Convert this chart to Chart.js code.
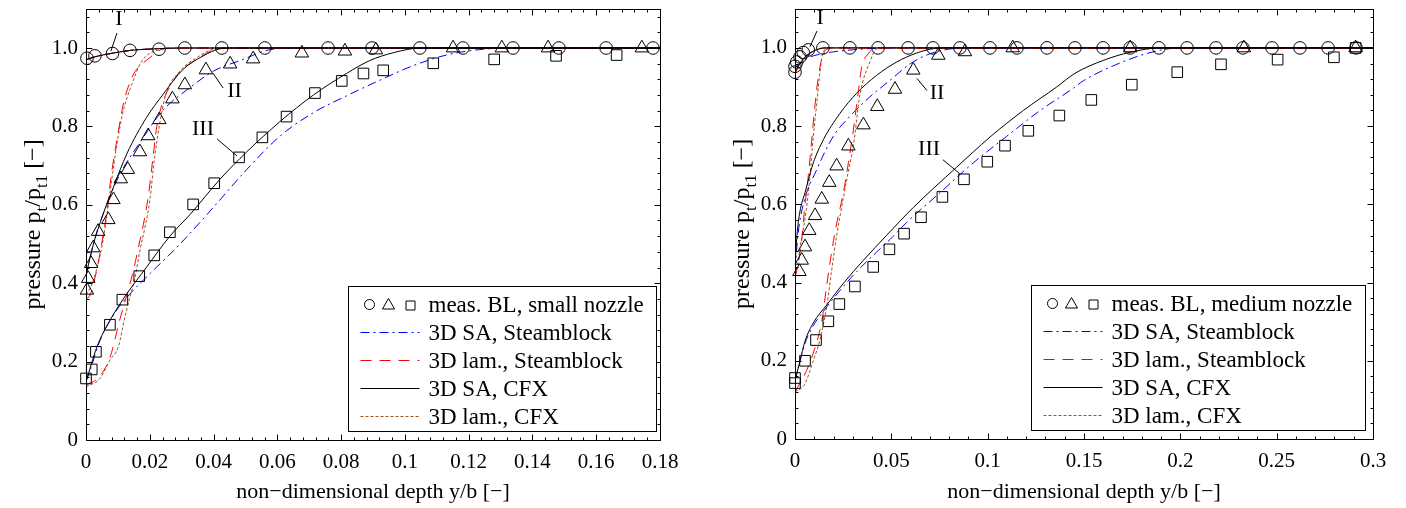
<!DOCTYPE html>
<html>
<head>
<meta charset="utf-8">
<title>Boundary layer profiles</title>
<script src="https://cdn.jsdelivr.net/npm/chart.js@4.4.1/dist/chart.umd.min.js"></script>
<style>
  html, body { margin: 0; padding: 0; background: #fff; }
  #wrap { position: relative; width: 1406px; height: 508px; overflow: hidden; }
  .panel { position: absolute; top: 0; width: 703px; height: 508px; }
</style>
</head>
<body>
<div id="wrap">
  <div class="panel" style="left:0"><canvas id="small" width="703" height="508"></canvas></div>
  <div class="panel" style="left:703px"><canvas id="medium" width="703" height="508"></canvas></div>
</div>
<script>
// ---- small nozzle (left), [y/b, pt/pt1] ----
const smallMeasI = [[0.0003,0.974],[0.0028,0.980],[0.0083,0.986],[0.0138,0.994],[0.0229,0.997],[0.031,1.0],[0.0426,1.0],[0.0561,1.0],[0.0759,1.0],[0.0897,1.0],[0.1047,1.0],[0.1182,1.0],[0.1339,1.0],[0.1483,1.0],[0.1631,1.0],[0.1778,1.0]];
const smallMeasII = [[0.0003,0.382],[0.0007,0.412],[0.0016,0.450],[0.0023,0.490],[0.0038,0.532],[0.0070,0.562],[0.0086,0.613],[0.0109,0.666],[0.0131,0.690],[0.0169,0.735],[0.0195,0.776],[0.0230,0.817],[0.0271,0.870],[0.0310,0.906],[0.0376,0.944],[0.0452,0.959],[0.0524,0.972],[0.0677,0.987],[0.0812,0.992],[0.0909,0.995],[0.1151,1.0],[0.1304,1.0],[0.1449,1.0],[0.1743,1.0]];
const smallMeasIII = [[0.0,0.157],[0.0018,0.180],[0.0031,0.225],[0.0075,0.294],[0.0114,0.358],[0.0167,0.418],[0.0214,0.471],[0.0263,0.530],[0.0336,0.601],[0.0402,0.655],[0.0480,0.721],[0.0553,0.772],[0.0629,0.825],[0.0718,0.885],[0.0802,0.916],[0.0870,0.935],[0.0932,0.943],[0.1089,0.961],[0.1280,0.971],[0.1474,0.980],[0.1664,0.982]];

const smallLineI = [[0,0.97],[0.003,0.978],[0.0085,0.987],[0.014,0.994],[0.022,0.998],[0.03,1.0],[0.18,1.0]];
const smallSaSbII = [[0,0.42],[0.003,0.52],[0.0065,0.6],[0.0107,0.679],[0.017,0.76],[0.024,0.84],[0.0326,0.899],[0.04,0.941],[0.0493,0.971],[0.0567,0.994],[0.065,1.0],[0.18,1.0]];
const smallLamSbII = [[0,0.36],[0.0013,0.37],[0.003,0.42],[0.0049,0.50],[0.0065,0.58],[0.008,0.68],[0.0096,0.76],[0.0117,0.857],[0.0132,0.90],[0.0154,0.94],[0.02,0.975],[0.0227,0.993],[0.027,1.0],[0.18,1.0]];
const smallSaCfxII = [[0,0.42],[0.002,0.49],[0.0054,0.577],[0.0086,0.645],[0.0128,0.730],[0.019,0.823],[0.0242,0.882],[0.0305,0.946],[0.0368,0.980],[0.042,0.998],[0.046,1.0],[0.18,1.0]];
const smallLamCfxII = [[0,0.37],[0.002,0.40],[0.0049,0.49],[0.0065,0.57],[0.008,0.66],[0.0096,0.75],[0.0117,0.84],[0.0145,0.91],[0.0174,0.965],[0.0227,0.995],[0.03,1.0],[0.18,1.0]];
const smallSaSbIII = [[0,0.15],[0.0013,0.178],[0.0044,0.254],[0.0096,0.331],[0.0138,0.373],[0.02,0.424],[0.0295,0.50],[0.04,0.594],[0.0504,0.69],[0.0608,0.775],[0.0713,0.835],[0.0817,0.878],[0.0922,0.918],[0.1026,0.955],[0.113,0.982],[0.1235,0.996],[0.135,1.0],[0.18,1.0]];
const smallLamSbIII = [[0,0.14],[0.004,0.16],[0.0075,0.21],[0.0107,0.31],[0.0128,0.37],[0.0148,0.43],[0.0164,0.49],[0.018,0.55],[0.0195,0.62],[0.021,0.72],[0.0222,0.80],[0.0242,0.865],[0.027,0.91],[0.0295,0.94],[0.0336,0.965],[0.04,0.995],[0.045,1.0],[0.18,1.0]];
const smallSaCfxIII = [[0,0.148],[0.0034,0.237],[0.0075,0.305],[0.0128,0.373],[0.019,0.441],[0.0263,0.52],[0.0326,0.575],[0.042,0.665],[0.0504,0.735],[0.0608,0.812],[0.0713,0.88],[0.0817,0.935],[0.089,0.968],[0.0964,0.988],[0.105,1.0],[0.18,1.0]];
const smallLamCfxIII = [[0,0.136],[0.0044,0.157],[0.0075,0.204],[0.0101,0.237],[0.0122,0.314],[0.0138,0.365],[0.0154,0.416],[0.0169,0.483],[0.0185,0.543],[0.02,0.61],[0.0215,0.72],[0.0248,0.874],[0.0295,0.941],[0.0347,0.975],[0.041,0.999],[0.046,1.0],[0.18,1.0]];

// ---- medium nozzle (right) ----
const mediumMeasI = [[0,0.938],[0,0.953],[0.0009,0.964],[0.0026,0.977],[0.0043,0.988],[0.0069,0.995],[0.0145,1.0],[0.0285,1.0],[0.0431,1.0],[0.0587,1.0],[0.0716,1.0],[0.0856,1.0],[0.1012,1.0],[0.1152,1.0],[0.1308,1.0],[0.1453,1.0],[0.1599,1.0],[0.1739,1.0],[0.1889,1.0],[0.2035,1.0],[0.2185,1.0],[0.2325,1.0],[0.2476,1.0],[0.2621,1.0],[0.2767,1.0],[0.2912,1.0]];
const mediumMeasII = [[0.0023,0.428],[0.0035,0.457],[0.0052,0.491],[0.0074,0.533],[0.0104,0.571],[0.0139,0.613],[0.0178,0.656],[0.0216,0.698],[0.0277,0.749],[0.0355,0.803],[0.0427,0.850],[0.0519,0.894],[0.0614,0.943],[0.0744,0.981],[0.0882,0.99],[0.113,1.0],[0.174,1.0],[0.233,1.0],[0.291,1.0]];
const mediumMeasIII = [[0,0.143],[0,0.156],[0.0052,0.200],[0.0109,0.253],[0.0173,0.301],[0.023,0.345],[0.0311,0.390],[0.0406,0.440],[0.049,0.485],[0.0566,0.525],[0.0654,0.567],[0.0765,0.619],[0.0877,0.664],[0.0998,0.709],[0.109,0.750],[0.1211,0.788],[0.1372,0.827],[0.1538,0.867],[0.1748,0.906],[0.1984,0.938],[0.2211,0.958],[0.2505,0.970],[0.2797,0.976],[0.291,1.0]];

const mediumSaSbI = [[0,0.95],[0.007,0.975],[0.014,0.985],[0.02,0.99],[0.035,0.997],[0.05,1.0],[0.3,1.0]];
const mediumLamSbI = [[0,0.934],[0.0035,0.968],[0.0085,0.989],[0.015,1.0],[0.3,1.0]];
const mediumSaCfxI = [[0,0.94],[0.004,0.97],[0.009,0.99],[0.016,1.0],[0.3,1.0]];
const mediumLamCfxI = [[0,0.935],[0.0035,0.968],[0.0085,0.989],[0.015,1.0],[0.3,1.0]];
const mediumSaSbII = [[0,0.43],[0.0015,0.52],[0.0043,0.6],[0.0113,0.689],[0.0199,0.774],[0.0285,0.825],[0.0389,0.875],[0.0493,0.917],[0.0597,0.959],[0.07,0.985],[0.08,0.997],[0.09,1.0],[0.3,1.0]];
const mediumLamSbII = [[0,0.41],[0.0017,0.45],[0.0035,0.51],[0.0052,0.6],[0.0069,0.673],[0.0087,0.765],[0.0104,0.855],[0.0121,0.925],[0.0139,0.972],[0.0165,0.997],[0.02,1.0],[0.3,1.0]];
const mediumSaCfxII = [[0,0.44],[0.001,0.52],[0.0025,0.58],[0.0052,0.63],[0.0095,0.706],[0.0147,0.765],[0.0234,0.833],[0.032,0.884],[0.0424,0.930],[0.0528,0.964],[0.0632,0.987],[0.0718,0.998],[0.08,1.0],[0.3,1.0]];
const mediumLamCfxII = [[0,0.42],[0.0015,0.45],[0.0026,0.49],[0.0052,0.563],[0.0078,0.673],[0.0095,0.774],[0.0113,0.858],[0.013,0.94],[0.0147,0.99],[0.018,1.0],[0.3,1.0]];
const mediumSaSbIII = [[0,0.149],[0.0026,0.2],[0.0052,0.245],[0.0095,0.29],[0.0147,0.326],[0.02,0.36],[0.032,0.428],[0.0424,0.478],[0.0493,0.51],[0.058,0.554],[0.0753,0.63],[0.0925,0.706],[0.1099,0.774],[0.1272,0.84],[0.1445,0.897],[0.1497,0.916],[0.167,0.958],[0.1843,0.988],[0.2,1.0],[0.3,1.0]];
const mediumLamSbIII = [[0,0.12],[0.006,0.175],[0.0104,0.234],[0.0139,0.301],[0.0165,0.394],[0.019,0.478],[0.0216,0.55],[0.0251,0.63],[0.0277,0.706],[0.0303,0.79],[0.0329,0.89],[0.0346,0.95],[0.038,0.985],[0.0424,1.0],[0.3,1.0]];
const mediumSaCfxIII = [[0,0.149],[0.0026,0.2],[0.0052,0.25],[0.0095,0.297],[0.0165,0.343],[0.0251,0.398],[0.0355,0.457],[0.0476,0.521],[0.0614,0.592],[0.0839,0.695],[0.1012,0.772],[0.1185,0.84],[0.1358,0.9],[0.1453,0.935],[0.16,0.968],[0.174,0.989],[0.19,1.0],[0.3,1.0]];
const mediumLamCfxIII = [[0,0.12],[0.005,0.14],[0.0095,0.2],[0.013,0.255],[0.0165,0.34],[0.019,0.43],[0.0216,0.52],[0.0245,0.6],[0.0275,0.68],[0.0303,0.75],[0.0337,0.88],[0.0389,0.965],[0.0424,0.997],[0.05,1.0],[0.3,1.0]];

const yTicks = [0, 0.2, 0.4, 0.6, 0.8, 1.0];
const smallLegend = ['meas. BL, small nozzle', '3D SA, Steamblock', '3D lam., Steamblock', '3D SA, CFX', '3D lam., CFX'];
const mediumLegend = ['meas. BL, medium nozzle', '3D SA, Steamblock', '3D lam., Steamblock', '3D SA, CFX', '3D lam., CFX'];

const FONT = '"Liberation Serif", "DejaVu Serif", serif';
Chart.defaults.font.family = FONT;
Chart.defaults.color = '#000';

const lineStyle = {
  saSb:   { color: '#0000ff', dash: [9, 4, 2, 4] },
  lamSb:  { color: '#ff0000', dash: [11, 8] },
  saCfx:  { color: '#000000', dash: [] },
  lamCfx: { color: '#a0521e', dash: [3, 2] }
};

function pts(arr) { return arr.map(p => ({ x: p[0], y: p[1] })); }

function lineSet(arr, key) {
  const s = lineStyle[key];
  return {
    data: pts(arr), showLine: true, pointRadius: 0, borderWidth: 1,
    borderColor: s.color, borderDash: s.dash, fill: false,
    cubicInterpolationMode: 'monotone'
  };
}

function markerSet(arr, style, r) {
  return {
    data: pts(arr), showLine: false, pointStyle: style, pointRadius: r,
    borderWidth: 1, borderColor: '#000', backgroundColor: 'rgba(0,0,0,0)', clip: false
  };
}

function drawMarker(ctx, style, x, y, r) {
  ctx.beginPath();
  if (style === 'circle') ctx.arc(x, y, r, 0, Math.PI * 2);
  else if (style === 'triangle') {
    ctx.moveTo(x, y - r);
    ctx.lineTo(x + r * 0.866, y + r * 0.5);
    ctx.lineTo(x - r * 0.866, y + r * 0.5);
    ctx.closePath();
  } else ctx.rect(x - r, y - r, 2 * r, 2 * r);
  ctx.stroke();
}

// frame with inward major/minor ticks on all four sides
const frameTicks = {
  id: 'frameTicks',
  afterDatasetsDraw(chart, args, o) {
    const { ctx, chartArea: a, scales: { x, y } } = chart;
    ctx.save();
    ctx.strokeStyle = '#000';
    ctx.lineWidth = 1;
    const L = Math.round(a.left) + 0.5, R = Math.round(a.right) + 0.5;
    const T = Math.round(a.top) + 0.5, B = Math.round(a.bottom) + 0.5;
    ctx.strokeRect(L, T, R - L, B - T);
    ctx.beginPath();
    const nx = Math.floor(x.max / o.xMinor + 1e-6);
    for (let i = 0; i <= nx; i++) {
      const px = Math.round(x.getPixelForValue(i * o.xMinor)) + 0.5;
      const len = i % 5 === 0 ? 6 : 3;
      ctx.moveTo(px, B); ctx.lineTo(px, B - len);
      ctx.moveTo(px, T); ctx.lineTo(px, T + len);
    }
    const ny = Math.floor(y.max / o.yMinor + 1e-6);
    for (let i = 0; i <= ny; i++) {
      const py = Math.round(y.getPixelForValue(i * o.yMinor)) + 0.5;
      const len = i % 5 === 0 ? 6 : 3;
      ctx.moveTo(L, py); ctx.lineTo(L + len, py);
      ctx.moveTo(R, py); ctx.lineTo(R - len, py);
    }
    ctx.stroke();
    ctx.restore();
  }
};

// I / II / III labels with leader lines, placed in data coordinates
const profileNotes = {
  id: 'profileNotes',
  afterDatasetsDraw(chart, args, o) {
    const { ctx, scales: { x, y } } = chart;
    ctx.save();
    ctx.strokeStyle = '#000';
    ctx.fillStyle = '#000';
    ctx.lineWidth = 1;
    ctx.font = `${o.size}px ${FONT}`;
    ctx.textAlign = 'center';
    ctx.textBaseline = 'middle';
    o.notes.forEach(n => {
      ctx.beginPath();
      ctx.moveTo(x.getPixelForValue(n.from[0]), y.getPixelForValue(n.from[1]));
      ctx.lineTo(x.getPixelForValue(n.to[0]), y.getPixelForValue(n.to[1]));
      ctx.stroke();
      ctx.fillText(n.text, x.getPixelForValue(n.at[0]), y.getPixelForValue(n.at[1]));
    });
    ctx.restore();
  }
};

const boxLegend = {
  id: 'boxLegend',
  afterDraw(chart, args, o) {
    const { ctx, chartArea: a } = chart;
    ctx.save();
    ctx.font = `${o.size}px ${FONT}`;
    const tw = Math.max(...o.labels.map(l => ctx.measureText(l).width));
    const w = Math.round(80 + tw + 13), h = 145;
    const x0 = Math.round(a.right - o.inset - w) + 0.5;
    const y0 = Math.round(a.bottom - 9 - h) + 0.5;
    ctx.fillStyle = '#fff';
    ctx.fillRect(x0, y0, w, h);
    ctx.strokeStyle = '#000';
    ctx.lineWidth = 1;
    ctx.strokeRect(x0, y0, w, h);
    const keys = [null, 'saSb', 'lamSb', 'saCfx', 'lamCfx'];
    o.labels.forEach((label, i) => {
      const yy = Math.round(y0 + 17.5 + i * 28) + 0.5;
      if (i === 0) {
        ctx.setLineDash([]);
        ctx.strokeStyle = '#000';
        drawMarker(ctx, 'circle', x0 + 21, yy, 5);
        drawMarker(ctx, 'triangle', x0 + 40, yy + 1, 7);
        drawMarker(ctx, 'rect', x0 + 62, yy + 1, 4.5);
      } else {
        const s = lineStyle[keys[i]];
        ctx.strokeStyle = s.color;
        ctx.setLineDash(s.dash);
        ctx.beginPath();
        ctx.moveTo(x0 + 12, yy);
        ctx.lineTo(x0 + 71, yy);
        ctx.stroke();
      }
      ctx.setLineDash([]);
      ctx.fillStyle = '#000';
      ctx.textAlign = 'left';
      ctx.textBaseline = 'middle';
      ctx.fillText(label, x0 + 80, yy + 1);
    });
    ctx.restore();
  }
};

// axis titles (y title needs subscripts)
const axisTitles = {
  id: 'axisTitles',
  afterDraw(chart, args, o) {
    const { ctx, chartArea: a } = chart;
    ctx.save();
    ctx.fillStyle = '#000';
    ctx.font = `${o.xSize}px ${FONT}`;
    ctx.textAlign = 'center';
    ctx.textBaseline = 'middle';
    ctx.fillText('non\u2212dimensional depth y/b [\u2212]', (a.left + a.right) / 2, o.xTitleY);

    const big = o.ySize, small = Math.round(o.ySize * 0.72);
    const parts = [['pressure p', 0], ['t', 1], ['/p', 0], ['t1', 1], [' [\u2212]', 0]];
    let total = 0;
    parts.forEach(([t, sub]) => {
      ctx.font = `${sub ? small : big}px ${FONT}`;
      total += ctx.measureText(t).width;
    });
    ctx.translate(o.yTitleX, (a.top + a.bottom) / 2);
    ctx.rotate(-Math.PI / 2);
    ctx.textAlign = 'left';
    ctx.textBaseline = 'alphabetic';
    let cx = -total / 2;
    parts.forEach(([t, sub]) => {
      ctx.font = `${sub ? small : big}px ${FONT}`;
      ctx.fillText(t, cx, big * 0.33 + (sub ? big * 0.3 : 0));
      cx += ctx.measureText(t).width;
    });
    ctx.restore();
  }
};

function tickText(v) {
  if (v === 0) return '0';
  return String(Math.round(v * 1000) / 1000);
}

function makeChart(id, c) {
  const datasets = [
    markerSet(c.meas[0], 'circle', 6.3),
    markerSet(c.meas[1], 'triangle', 7.8),
    markerSet(c.meas[2], 'rect', 7.5)
  ];
  ['saCfx', 'lamSb', 'saSb', 'lamCfx'].forEach(k => {
    c.lines[k].forEach(arr => datasets.push(lineSet(arr, k)));
  });

  return new Chart(document.getElementById(id), {
    type: 'scatter',
    data: { datasets },
    plugins: [frameTicks, profileNotes, boxLegend, axisTitles],
    options: {
      responsive: false,
      animation: false,
      events: [],
      layout: { padding: { left: 0, top: c.padTop, right: c.padRight, bottom: 0 } },
      scales: {
        x: {
          type: 'linear', min: 0, max: c.xMax,
          grid: { display: false, drawTicks: false },
          border: { display: false },
          ticks: {
            stepSize: c.xStep, autoSkip: false, maxRotation: 0, includeBounds: false,
            padding: 10, font: { size: 21 }, color: '#000', callback: tickText
          },
          afterFit: s => { s.height = c.xAxisHeight; s.paddingLeft = 0; s.paddingRight = 0; }
        },
        y: {
          type: 'linear', min: 0, max: 1.1,
          grid: { display: false, drawTicks: false },
          border: { display: false },
          afterBuildTicks: s => { s.ticks = yTicks.map(v => ({ value: v })); },
          ticks: {
            padding: 8, font: { size: 21 }, color: '#000',
            callback: v => (v === 0 ? '0' : v.toFixed(1))
          },
          afterFit: s => { s.width = c.yAxisWidth; s.paddingTop = 0; s.paddingBottom = 0; }
        }
      },
      plugins: {
        legend: { display: false },
        tooltip: { enabled: false },
        frameTicks: { xMinor: c.xStep / 5, yMinor: 0.04 },
        profileNotes: { size: 22, notes: c.notes },
        boxLegend: { size: 23, labels: c.legend, inset: c.legendInset },
        axisTitles: { xSize: 22, ySize: 24, xTitleY: 492, yTitleX: c.yTitleX }
      }
    }
  });
}

makeChart('small', {
  xMax: 0.18, xStep: 0.02, padTop: 7, padRight: 43, yAxisWidth: 86, xAxisHeight: 68,
  yTitleX: 32, legendInset: 4,
  meas: [smallMeasI, smallMeasII, smallMeasIII],
  lines: {
    saSb: [smallLineI, smallSaSbII, smallSaSbIII],
    lamSb: [smallLineI, smallLamSbII, smallLamSbIII],
    saCfx: [smallLineI, smallSaCfxII, smallSaCfxIII],
    lamCfx: [smallLineI, smallLamCfxII, smallLamCfxIII]
  },
  legend: smallLegend,
  notes: [
    { text: 'I', at: [0.0103, 1.074], from: [0.0097, 1.038], to: [0.0078, 0.992] },
    { text: 'II', at: [0.0466, 0.891], from: [0.0398, 0.936], to: [0.043, 0.898] },
    { text: 'III', at: [0.0367, 0.794], from: [0.0411, 0.768], to: [0.0473, 0.725] }
  ]
});

makeChart('medium', {
  xMax: 0.3, xStep: 0.05, padTop: 4, padRight: 33, yAxisWidth: 92, xAxisHeight: 69,
  yTitleX: 38, legendInset: 8,
  meas: [mediumMeasI, mediumMeasII, mediumMeasIII],
  lines: {
    saSb: [mediumSaSbI, mediumSaSbII, mediumSaSbIII],
    lamSb: [mediumLamSbI, mediumLamSbII, mediumLamSbIII],
    saCfx: [mediumSaCfxI, mediumSaCfxII, mediumSaCfxIII],
    lamCfx: [mediumLamCfxI, mediumLamCfxII, mediumLamCfxIII]
  },
  legend: mediumLegend,
  notes: [
    { text: 'I', at: [0.013, 1.076], from: [0.0114, 1.043], to: [0.0078, 1.003] },
    { text: 'II', at: [0.0737, 0.884], from: [0.0633, 0.922], to: [0.0685, 0.891] },
    { text: 'III', at: [0.0696, 0.742], from: [0.0768, 0.714], to: [0.0856, 0.678] }
  ]
});
</script>
</body>
</html>
